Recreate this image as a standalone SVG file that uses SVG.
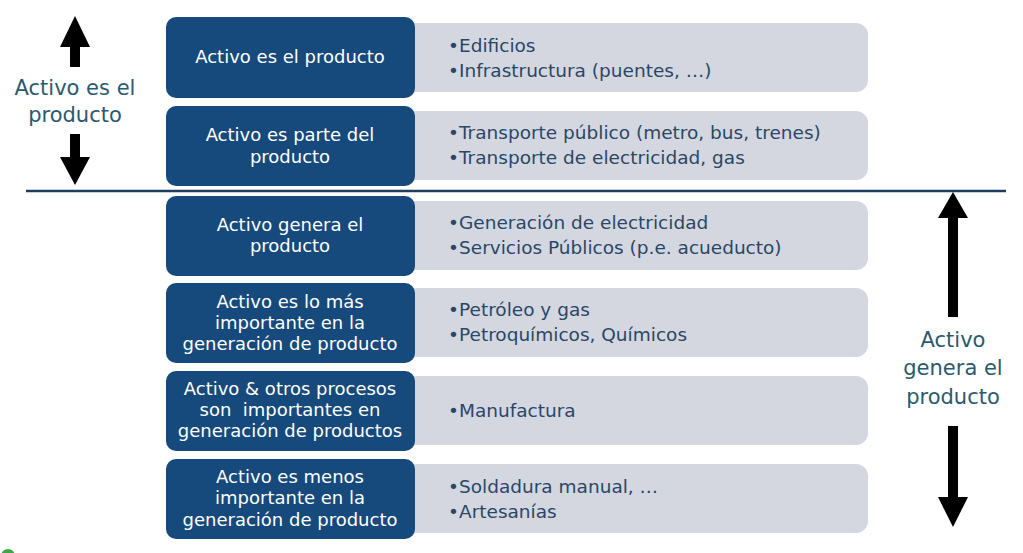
<svg xmlns="http://www.w3.org/2000/svg" width="1023" height="553" viewBox="0 0 1023 553">
<style>
.dk{fill:#174a7c}
.gr{fill:#d4d7e0}
.dt{font-family:"DejaVu Sans",Verdana,sans-serif;font-size:18px;fill:#ffffff;text-anchor:middle}
.gt{font-family:"DejaVu Sans",Verdana,sans-serif;font-size:18.5px;fill:#2a4766}
.side{font-family:"DejaVu Sans",Verdana,sans-serif;font-size:21px;fill:#2b5a6e;text-anchor:middle}
.arr{fill:#000000}
</style>
<rect width="1023" height="553" fill="#ffffff"/>
<g id="row1">
<rect class="gr" x="405" y="23" width="463" height="69" rx="12"/>
<rect class="dk" x="166" y="17" width="249" height="81" rx="10"/>
<text class="dt" x="290" y="63">Activo es el producto</text>
<text class="gt" x="448" y="52">•<tspan x="459">Edificios</tspan></text>
<text class="gt" x="448" y="77">•<tspan x="459">Infrastructura (puentes, …)</tspan></text>
</g>
<g id="row2">
<rect class="gr" x="405" y="111" width="463" height="69" rx="12"/>
<rect class="dk" x="166" y="106" width="249" height="80" rx="10"/>
<text class="dt" x="290" y="141">Activo es parte del</text>
<text class="dt" x="290" y="163">producto</text>
<text class="gt" x="448" y="139">•<tspan x="459">Transporte público (metro, bus, trenes)</tspan></text>
<text class="gt" x="448" y="164">•<tspan x="459">Transporte de electricidad, gas</tspan></text>
</g>
<g id="row3">
<rect class="gr" x="405" y="201" width="463" height="69" rx="12"/>
<rect class="dk" x="166" y="196" width="249" height="80" rx="10"/>
<text class="dt" x="290" y="231">Activo genera el</text>
<text class="dt" x="290" y="252">producto</text>
<text class="gt" x="448" y="229">•<tspan x="459">Generación de electricidad</tspan></text>
<text class="gt" x="448" y="254">•<tspan x="459">Servicios Públicos (p.e. acueducto)</tspan></text>
</g>
<g id="row4">
<rect class="gr" x="405" y="288" width="463" height="69" rx="12"/>
<rect class="dk" x="166" y="283" width="249" height="80" rx="10"/>
<text class="dt" x="290" y="308">Activo es lo más</text>
<text class="dt" x="290" y="329">importante en la</text>
<text class="dt" x="290" y="350">generación de producto</text>
<text class="gt" x="448" y="316">•<tspan x="459">Petróleo y gas</tspan></text>
<text class="gt" x="448" y="341">•<tspan x="459">Petroquímicos, Químicos</tspan></text>
</g>
<g id="row5">
<rect class="gr" x="405" y="376" width="463" height="69" rx="12"/>
<rect class="dk" x="166" y="371" width="249" height="80" rx="10"/>
<text class="dt" x="290" y="395">Activo &amp; otros procesos</text>
<text class="dt" x="290" y="416" xml:space="preserve">son  importantes en</text>
<text class="dt" x="290" y="437">generación de productos</text>
<text class="gt" x="448" y="417">•<tspan x="459">Manufactura</tspan></text>
</g>
<g id="row6">
<rect class="gr" x="405" y="464" width="463" height="69" rx="12"/>
<rect class="dk" x="166" y="459" width="249" height="80" rx="10"/>
<text class="dt" x="290" y="483">Activo es menos</text>
<text class="dt" x="290" y="504">importante en la</text>
<text class="dt" x="290" y="526">generación de producto</text>
<text class="gt" x="448" y="493">•<tspan x="459">Soldadura manual, …</tspan></text>
<text class="gt" x="448" y="518">•<tspan x="459">Artesanías</tspan></text>
</g>
<g id="label-left">
<text class="side" x="75" y="95">Activo es el</text>
<text class="side" x="75" y="122">producto</text>
</g>
<g id="label-right">
<text class="side" x="953" y="347">Activo</text>
<text class="side" x="953" y="375">genera el</text>
<text class="side" x="953" y="404">producto</text>
</g>
<g id="connectors">
<line x1="26" y1="191" x2="1006" y2="191" stroke="#1f3d5e" stroke-width="2.5"/>
<polygon class="arr" points="75,16 90,47 80,47 80,67 70,67 70,47 60,47"/>
<polygon class="arr" points="70,134 80,134 80,157 90,157 75,185 60,157 70,157"/>
<polygon class="arr" points="953,192 968,218 958,218 958,317 948,317 948,218 938,218"/>
<polygon class="arr" points="948,426 958,426 958,497 968,497 953,527 938,497 948,497"/>
</g>
<circle cx="8" cy="556" r="7" fill="#3aa84a"/>
</svg>
